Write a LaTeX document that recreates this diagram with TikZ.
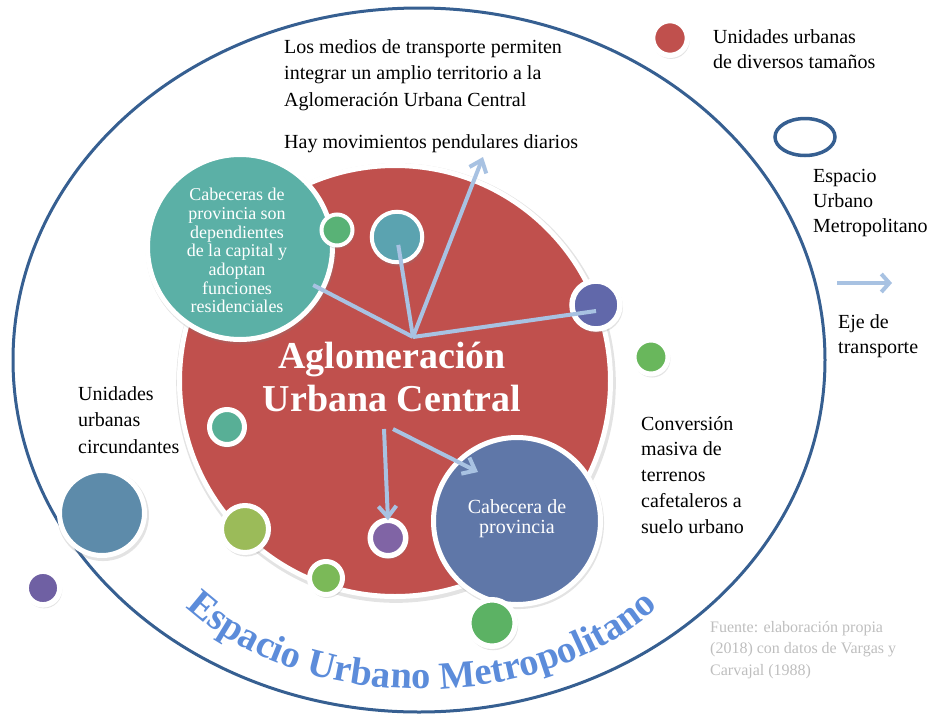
\documentclass[tikz,border=0pt]{standalone}
\usepackage{fontspec}
\setmainfont{Liberation Serif}
\usetikzlibrary{arrows.meta,shadows,decorations.text}
\definecolor{cRed}{RGB}{192,80,77}
\definecolor{cTealA}{RGB}{91,176,166}
\definecolor{cGreenA}{RGB}{89,178,118}
\definecolor{cTealB}{RGB}{91,163,176}
\definecolor{cPurpB}{RGB}{97,104,170}
\definecolor{cGreenB}{RGB}{105,183,92}
\definecolor{cTealC}{RGB}{88,175,150}
\definecolor{cSteel}{RGB}{93,139,170}
\definecolor{cPurpC}{RGB}{111,96,163}
\definecolor{cYGreen}{RGB}{155,187,89}
\definecolor{cGreenC}{RGB}{123,185,88}
\definecolor{cPurpD}{RGB}{128,100,165}
\definecolor{cBlue}{RGB}{95,119,168}
\definecolor{cGreenD}{RGB}{92,178,100}
\definecolor{cOuter}{RGB}{54,95,145}
\definecolor{cArrow}{RGB}{168,194,226}
\definecolor{cGrayTxt}{RGB}{190,190,190}
\definecolor{cWordArt}{RGB}{92,140,218}
\begin{document}
\begin{tikzpicture}[x=1pt,y=-1pt,
  bub/.style={circle, draw=white, line width=5pt, inner sep=0pt, outer sep=0pt,
    drop shadow={shadow xshift=1pt, shadow yshift=-2pt, shadow scale=#1, opacity=.22}},
  bub/.default=1.08,
  txt/.style={inner sep=0pt, anchor=north west, align=left, font=\fontsize{20}{26.5}\selectfont},
  arr/.style={draw=cArrow, line width=4pt},
  arrtip/.style={-{Straight Barb[length=11pt,width=18pt]}}
]
\useasboundingbox (0,0) rectangle (930,713);

% outer metropolitan space
\draw[cOuter, line width=3pt] (419,360) ellipse [x radius=406, y radius=352];

% central agglomeration
\node[bub=1.02, fill=cRed, minimum size=431pt] (aglo) at (395,381) {};
\node[bub=1.03, fill=cTealA, minimum size=185pt] (cabA) at (240,247) {};
\node[bub=1.03, fill=cBlue, minimum size=167pt] (cabB) at (517,521) {};

% small urban units
\node[bub, fill=cGreenA, minimum size=31pt, line width=4pt] (gA) at (337,230) {};
\node[bub, fill=cTealB, minimum size=50.5pt, line width=4pt] (tB) at (397,237) {};
\node[bub, fill=cPurpB, minimum size=48pt, line width=5.5pt] (pB) at (596,305) {};
\node[bub, fill=cGreenB, minimum size=34pt] (gB) at (651,357) {};
\node[bub, fill=cTealC, minimum size=35pt] (tC) at (227,427) {};
\node[bub, fill=cSteel, minimum size=85pt] (sC) at (102,513) {};
\node[bub, fill=cPurpC, minimum size=33.7pt, line width=5.5pt] (pC) at (43,588) {};
\node[bub, fill=cYGreen, minimum size=47pt] (yC) at (245,529) {};
\node[bub, fill=cGreenC, minimum size=33pt] (gC) at (326,578) {};
\node[bub, fill=cPurpD, minimum size=35.5pt, line width=5.5pt] (pD) at (388,538) {};
\node[bub, fill=cGreenD, minimum size=46.5pt, line width=5.5pt] (gD) at (492,623) {};

% legend
\node[bub, fill=cRed, minimum size=34.7pt, line width=5.3pt] (legRed) at (670,38) {};
\draw[cOuter, line width=3.5pt] (805,137) ellipse [x radius=30, y radius=18.5];
\coordinate (legA) at (837,283);
\coordinate (legB) at (892,283);
\draw[arr, -{Straight Barb[length=8pt,width=18pt]}] (legA) -- (legB);

% transport axes
\coordinate (hub) at (413,337);
\coordinate (upend) at (483,157);
\draw[arr, shorten >=-10pt] (hub) -- (cabA);
\draw[arr, shorten >=8pt] (hub) -- (tB.center);
\draw[arr] (hub) -- ([yshift=-6pt]pB.center);
\draw[arr, arrtip] (hub) -- (upend);
\coordinate (lowA) at (384,429);
\coordinate (lowB) at (393,429);
\coordinate (lowBend) at (478,472);
\draw[arr, arrtip] (lowA) -- (pD.north);
\draw[arr, arrtip] (lowB) -- (lowBend);

% texts
\node[inner sep=0pt, anchor=north, align=center, text=white,
  font=\fontsize{38}{43}\selectfont\bfseries] (aglotxt) at (392,342) {Aglomeración\\Urbana Central};
\node[inner sep=0pt, anchor=north, align=center, text=white,
  font=\fontsize{18}{18.7}\selectfont] (cabAtxt) at (237,188)
  {Cabeceras de\\provincia son\\dependientes\\de la capital y\\adoptan\\funciones\\residenciales};
\node[inner sep=0pt, anchor=north, align=center, text=white,
  font=\fontsize{20}{20}\selectfont] (cabBtxt) at (517,499) {Cabecera de\\provincia};

\node[txt] (medios) at (284,39) {Los medios de transporte permiten\\integrar un amplio territorio a la\\Aglomeración Urbana Central};
\node[txt] (pend) at (284,134) {Hay movimientos pendulares diarios};
\node[txt] (circ) at (78,386) {Unidades\\urbanas\\circundantes};
\node[txt, font=\fontsize{20}{25.75}\selectfont] (conv) at (641,416) {Conversión\\masiva de\\terrenos\\cafetaleros a\\suelo urbano};
\node[txt, font=\fontsize{20}{25}\selectfont] (legt1) at (713,29) {Unidades urbanas\\de diversos tamaños};
\node[txt, font=\fontsize{20}{25}\selectfont] (legt2) at (813,169) {Espacio\\Urbano\\Metropolitano};
\node[txt, font=\fontsize{20}{25}\selectfont] (legt3) at (838,314) {Eje de\\transporte};
\node[txt, font=\fontsize{16}{21.5}\selectfont, text=cGrayTxt] (fuente) at (710,621) {Fuente: elaboración propia\\(2018) con datos de Vargas y\\Carvajal (1988)};

% curved title
\path[decorate, decoration={text along path, text align=center,
  text={|\fontsize{38.5}{41}\selectfont\bfseries\color{cWordArt}|Espacio Urbano Metropolitano}}]
  (180,602) .. controls (298,718) and (546,718) .. (664,602);
\end{tikzpicture}
\end{document}
